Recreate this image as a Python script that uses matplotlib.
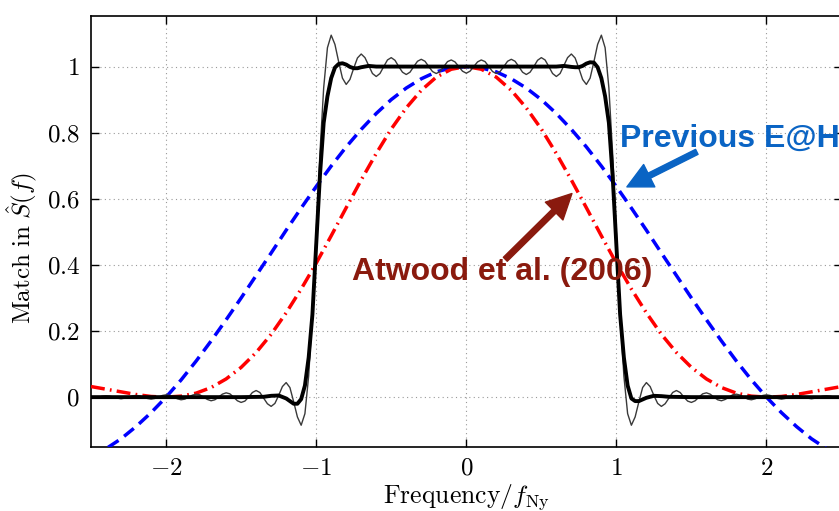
import numpy as np
import matplotlib
matplotlib.use("Agg")
from matplotlib import pyplot as plt

plt.rcParams['mathtext.fontset'] = 'cm'
plt.rcParams['font.family'] = ['Liberation Serif', 'DejaVu Serif']

# Frequency grid (in units of f_Ny)
freq_fine = np.linspace(-2.5, 2.5, 201)   # step 0.025
freq_coarse = np.linspace(-2.5, 2.5, 51)  # step 0.1

# Thin black curve: sharp window with Gibbs ringing
thin_match = [
    -0.004, -0.003, 0.000, 0.003, 0.004, 0.003, 0.000, -0.003, -0.005, -0.003,
    0.000, 0.004, 0.005, 0.004, 0.000, -0.004, -0.006, -0.004, 0.000, 0.005,
    0.007, 0.005, 0.000, -0.005, -0.008, -0.006, 0.000, 0.006, 0.009, 0.007,
    0.000, -0.007, -0.011, -0.008, 0.000, 0.009, 0.013, 0.010, 0.000, -0.011,
    -0.016, -0.012, 0.000, 0.014, 0.020, 0.014, -0.003, -0.020, -0.028, -0.019,
    0.005, 0.032, 0.044, 0.029, -0.014, -0.060, -0.085, -0.050, 0.064, 0.255,
    0.495, 0.738, 0.936, 1.057, 1.095, 1.067, 1.014, 0.965, 0.946, 0.961,
    0.995, 1.026, 1.038, 1.027, 1.003, 0.979, 0.970, 0.979, 1.000, 1.020,
    1.027, 1.019, 1.000, 0.983, 0.976, 0.983, 1.000, 1.016, 1.022, 1.016,
    1.000, 0.985, 0.979, 0.985, 1.000, 1.015, 1.020, 1.014, 1.000, 0.986,
    0.980,
    0.986, 1.000, 1.014, 1.020, 1.015, 1.000, 0.985, 0.979, 0.985, 1.000,
    1.016, 1.022, 1.016, 1.000, 0.983, 0.976, 0.983, 1.000, 1.019, 1.027,
    1.020, 1.000, 0.979, 0.970, 0.979, 1.003, 1.027, 1.038, 1.026, 0.995,
    0.961, 0.946, 0.965, 1.014, 1.067, 1.095, 1.057, 0.936, 0.738, 0.495,
    0.255, 0.064, -0.050, -0.085, -0.060, -0.014, 0.029, 0.044, 0.032, 0.005,
    -0.019, -0.028, -0.020, -0.003, 0.014, 0.020, 0.014, 0.000, -0.012, -0.016,
    -0.011, 0.000, 0.010, 0.013, 0.009, 0.000, -0.008, -0.011, -0.007, 0.000,
    0.007, 0.009, 0.006, 0.000, -0.006, -0.008, -0.005, 0.000, 0.005, 0.007,
    0.005, 0.000, -0.004, -0.006, -0.004, 0.000, 0.004, 0.005, 0.004, 0.000,
    -0.003, -0.005, -0.003, 0.000, 0.003, 0.004, 0.003, 0.000, -0.003, -0.004,
]

# Thick black curve: smoothed window
thick_freq = [
    -2.5, -1.5, -1.35, -1.3, -1.25, -1.2, -1.15, -1.125, -1.1, -1.075,
    -1.05, -1.025, -1.0, -0.975, -0.95, -0.925, -0.9, -0.875, -0.85, -0.825,
    -0.8, -0.775, -0.75, -0.725, -0.7, -0.65, -0.6,
    0.6, 0.65, 0.7, 0.725, 0.75, 0.775, 0.8, 0.825, 0.85, 0.875,
    0.9, 0.925, 0.95, 0.975, 1.0, 1.025, 1.05, 1.075, 1.1, 1.125,
    1.15, 1.2, 1.25, 1.3, 1.35, 1.5, 2.5,
]
thick_match = [
    0.0, 0.0, 0.001, 0.004, 0.005, -0.004, -0.020, -0.020, -0.006, 0.035,
    0.120, 0.250, 0.460, 0.670, 0.830, 0.910, 0.965, 0.997, 1.008, 1.010,
    1.006, 0.999, 0.995, 0.995, 0.998, 1.002, 1.0,
    1.0, 1.002, 0.999, 0.998, 0.998, 1.002, 1.009, 1.013, 1.012, 0.998,
    0.965, 0.910, 0.830, 0.670, 0.460, 0.250, 0.120, 0.035, -0.004, -0.012,
    -0.012, -0.002, 0.004, 0.003, 0.001, 0.0, 0.0,
]

# Previous E@H (blue dashed)
prev_eah = [
    -0.180, -0.156, -0.126, -0.089, -0.047, 0.000, 0.052, 0.109, 0.170, 0.234,
    0.300, 0.368, 0.436, 0.505, 0.572, 0.637, 0.699, 0.757, 0.810, 0.858,
    0.900, 0.935, 0.963, 0.984, 0.996, 1.000, 0.996, 0.984, 0.963, 0.935,
    0.900, 0.858, 0.810, 0.757, 0.699, 0.637, 0.572, 0.505, 0.436, 0.368,
    0.300, 0.234, 0.170, 0.109, 0.052, 0.000, -0.047, -0.089, -0.126, -0.156,
    -0.180,
]

# Atwood et al. (2006) (red dash-dot)
atwood = [
    0.032, 0.024, 0.016, 0.008, 0.002, 0.000, 0.003, 0.012, 0.029, 0.055,
    0.090, 0.135, 0.190, 0.255, 0.327, 0.405, 0.488, 0.573, 0.657, 0.737,
    0.811, 0.875, 0.928, 0.968, 0.992, 1.000, 0.992, 0.968, 0.928, 0.875,
    0.811, 0.737, 0.657, 0.573, 0.488, 0.405, 0.327, 0.255, 0.190, 0.135,
    0.090, 0.055, 0.029, 0.012, 0.003, 0.000, 0.002, 0.008, 0.016, 0.024,
    0.032,
]

xticks = [-2, -1, 0, 1, 2]
xtick_labels = [r'$-2$', r'$-1$', r'$0$', r'$1$', r'$2$']
yticks = [0, 0.2, 0.4, 0.6, 0.8, 1]
ytick_labels = [r'$0$', r'$0.2$', r'$0.4$', r'$0.6$', r'$0.8$', r'$1$']

fig = plt.figure(figsize=(8.39, 5.11), dpi=100)
ax = fig.add_axes([0.1085, 0.1258, 0.8945, 0.8429])

ax.plot(freq_coarse, prev_eah, color='#0000ff', lw=2.5, dashes=(3.6, 2.0), zorder=3)
ax.plot(freq_coarse, atwood, color='#ff0000', lw=2.5, dashes=(4.0, 1.5, 0.5, 1.5), zorder=3)
ax.plot(freq_fine, thin_match, color='#3a3a3a', lw=1.0, zorder=4)
ax.plot(thick_freq, thick_match, color='black', lw=2.8, zorder=5)

ax.set_xlim(-2.5, 2.5)
ax.set_ylim(-0.15, 1.153)
ax.set_xticks(xticks, labels=xtick_labels)
ax.set_yticks(yticks, labels=ytick_labels)
ax.tick_params(direction='in', top=True, right=True, length=6, width=1.0,
               labelsize=18, pad=8)
ax.grid(True, linestyle=(0, (1, 3)), color='#999999', lw=0.8)
for s in ax.spines.values():
    s.set_linewidth(1.2)

ax.set_xlabel(r'$\mathrm{Frequency}/f_{\mathrm{Ny}}$', fontsize=18.5, labelpad=2)
ax.set_ylabel(r'$\mathrm{Match\ in\ }\hat{S}(f)$', fontsize=18)
ax.yaxis.set_label_coords(-0.068, 0.461)

# annotations
ax.annotate('', xy=(1.070, 0.636), xytext=(1.536, 0.742),
            arrowprops=dict(arrowstyle='simple,head_length=0.9,head_width=0.9,tail_width=0.2',
                            mutation_scale=20, color='#0a64c4', shrinkA=0, shrinkB=0),
            zorder=6)
ax.text(1.025, 0.756, 'Previous E@H', color='#0a64c4', fontsize=23,
        fontweight='bold', family='Liberation Sans', ha='left', va='baseline', zorder=6)

ax.annotate('', xy=(0.704, 0.616), xytext=(0.260, 0.417),
            arrowprops=dict(arrowstyle='simple,head_length=0.9,head_width=0.9,tail_width=0.2',
                            mutation_scale=20, color='#8a1a0e', shrinkA=0, shrinkB=0),
            zorder=6)
ax.text(-0.761, 0.354, 'Atwood et al. (2006)', color='#8a1a0e', fontsize=23,
        fontweight='bold', family='Liberation Sans', ha='left', va='baseline', zorder=6)

plt.savefig('out.png', dpi=100)
